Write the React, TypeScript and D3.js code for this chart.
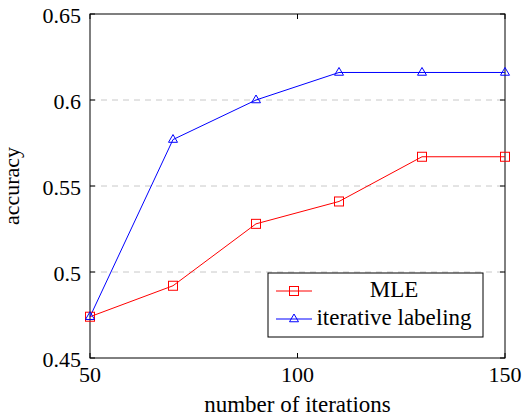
import React from 'react';
import * as d3 from 'd3';

const iterations = [50, 70, 90, 110, 130, 150];
const mleValues = [0.474, 0.492, 0.528, 0.541, 0.567, 0.567];
const iterValues = [0.474, 0.577, 0.6, 0.616, 0.616, 0.616];
const xTicks = [50, 100, 150];
const yTicks = [0.45, 0.5, 0.55, 0.6, 0.65];
const gridTicks = [0.5, 0.55, 0.6];
const seriesNames = ['MLE', 'iterative labeling'];

const W = 523, H = 418;
const left = 90, right = 505, top = 14, bottom = 358;
const font = 'Liberation Serif';

function Square(props: { x: number; y: number }) {
  const s = 9;
  return <rect x={props.x - s / 2} y={props.y - s / 2} width={s} height={s} fill="none" stroke="#ff0000" strokeWidth={1} />;
}

function Triangle(props: { x: number; y: number }) {
  const r = 5;
  const pts = [
    [props.x, props.y - r],
    [props.x - r * 0.9, props.y + r * 0.55],
    [props.x + r * 0.9, props.y + r * 0.55],
  ].map(p => p.join(',')).join(' ');
  return <polygon points={pts} fill="none" stroke="#0000ff" strokeWidth={1} />;
}

export default function App() {
  const x = d3.scaleLinear().domain([50, 150]).range([left, right]);
  const y = d3.scaleLinear().domain([0.45, 0.65]).range([bottom, top]);

  const line = d3.line<number>()
    .x((d, i) => x(iterations[i]))
    .y(d => y(d));

  const legX = 268, legY = 273, legW = 215, legH = 64;
  const row1 = 291, row2 = 319;
  const txt = { fontFamily: font };

  return (
    <svg width={W} height={H} style={{ position: 'absolute', left: 0, top: 0 }}>
      <rect width={W} height={H} fill="#fff" />
      {gridTicks.map(t => (
        <line key={t} x1={left} x2={right} y1={y(t)} y2={y(t)} stroke="#c8c8c8" strokeWidth={1} strokeDasharray="6 5" />
      ))}
      {xTicks.map(t => (
        <g key={t}>
          <line x1={x(t)} x2={x(t)} y1={bottom} y2={bottom - 5} stroke="#000" />
          <line x1={x(t)} x2={x(t)} y1={top} y2={top + 5} stroke="#000" />
          <text x={x(t)} y={382} textAnchor="middle" style={txt} fontSize={22}>{t}</text>
        </g>
      ))}
      {yTicks.map(t => (
        <g key={t}>
          <line x1={left} x2={left + 5} y1={y(t)} y2={y(t)} stroke="#000" />
          <line x1={right} x2={right - 5} y1={y(t)} y2={y(t)} stroke="#000" />
          <text x={81} y={y(t) + 8.5} textAnchor="end" style={txt} fontSize={22}>{String(t)}</text>
        </g>
      ))}
      <rect x={left} y={top} width={right - left} height={bottom - top} fill="none" stroke="#000" strokeWidth={1} />

      <path d={line(mleValues) || ''} fill="none" stroke="#ff0000" strokeWidth={1} />
      <path d={line(iterValues) || ''} fill="none" stroke="#0000ff" strokeWidth={1} />
      {mleValues.map((v, i) => <Square key={'m' + i} x={x(iterations[i])} y={y(v)} />)}
      {iterValues.map((v, i) => <Triangle key={'t' + i} x={x(iterations[i])} y={y(v)} />)}

      <rect x={legX} y={legY} width={legW} height={legH} fill="#fff" stroke="#000" strokeWidth={1} />
      <line x1={276} x2={312} y1={row1} y2={row1} stroke="#ff0000" />
      <Square x={294} y={row1} />
      <text x={394} y={row1 + 6} textAnchor="middle" style={txt} fontSize={23}>{seriesNames[0]}</text>
      <line x1={276} x2={312} y1={row2} y2={row2} stroke="#0000ff" />
      <Triangle x={294} y={row2} />
      <text x={394} y={row2 + 6} textAnchor="middle" style={txt} fontSize={23}>{seriesNames[1]}</text>

      <text x={(left + right) / 2} y={412} textAnchor="middle" style={txt} fontSize={23}>number of iterations</text>
      <text transform={`translate(19,${(top + bottom) / 2}) rotate(-90)`} textAnchor="middle" style={txt} fontSize={22}>accuracy</text>
    </svg>
  );
}
